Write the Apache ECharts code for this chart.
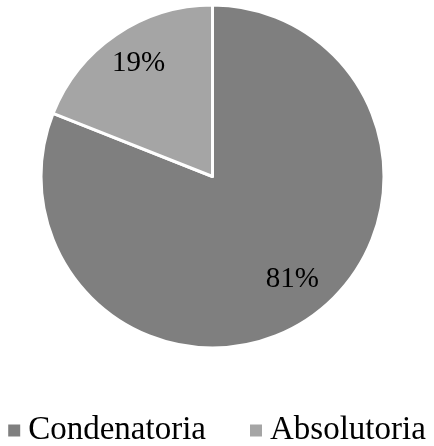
<!DOCTYPE html>
<html>
<head>
<meta charset="utf-8">
<script src="https://cdn.jsdelivr.net/npm/echarts@6/dist/echarts.min.js"></script>
<style>
  html, body { margin: 0; padding: 0; background: #ffffff; }
  #chart { width: 434px; height: 446px; }
</style>
</head>
<body>
<div id="chart"></div>
<script>
// Share of rulings by outcome (percent)
var categories = ['Condenatoria', 'Absolutoria'];
var shares = [81, 19];
var sliceColors = ['#7f7f7f', '#a5a5a5'];

// Per-slice nudge of the value label away from the mid-radius position
var labelOffsets = [[30, 29], [-24, -40]];

var chart = echarts.init(document.getElementById('chart'), null, { renderer: 'canvas' });

var pieData = categories.map(function (name, i) {
  return {
    name: name,
    value: shares[i],
    itemStyle: { color: sliceColors[i], borderColor: '#ffffff', borderWidth: 3 },
    label: { offset: labelOffsets[i] }
  };
});

chart.setOption({
  animation: false,
  backgroundColor: '#ffffff',
  legend: {
    data: categories.map(function (name, i) {
      return { name: name, itemStyle: { color: sliceColors[i], borderWidth: 0 } };
    }),
    left: 'center',
    top: 414,
    icon: 'rect',
    itemWidth: 12,
    itemHeight: 12,
    itemGap: 44,
    textStyle: {
      fontFamily: 'Liberation Serif',
      fontSize: 33,
      lineHeight: 33,
      color: '#000000',
      padding: [0, 0, 0, 3]
    },
    padding: 0
  },
  series: [{
    type: 'pie',
    center: [212.5, 176.5],
    radius: [0, 171.5],
    startAngle: 90,
    clockwise: true,
    silent: true,
    label: {
      show: true,
      position: 'inside',
      formatter: '{c}%',
      fontFamily: 'Liberation Serif',
      fontSize: 29,
      color: '#000000'
    },
    labelLine: { show: false },
    data: pieData
  }]
});
</script>
</body>
</html>
